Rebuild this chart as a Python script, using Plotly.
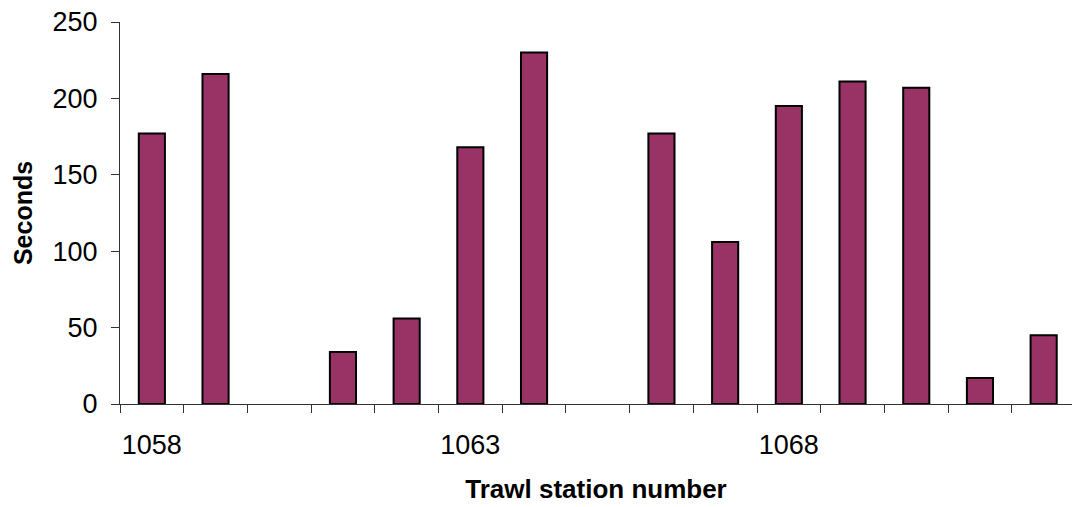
import plotly.graph_objects as go

stations = [1058, 1059, 1060, 1061, 1062, 1063, 1064, 1065, 1066, 1067, 1068, 1069, 1070, 1071, 1072]
seconds = [177, 216, None, 34, 56, 168, 230, None, 177, 106, 195, 211, 207, 17, 45]
label_stations = [1058, 1063, 1068]
y_ticks = [0, 50, 100, 150, 200, 250]

boundaries = [s - 0.5 for s in stations] + [stations[-1] + 0.5]

fig = go.Figure(
    go.Bar(
        x=stations,
        y=seconds,
        width=0.41,
        marker=dict(color="#993366", line=dict(color="#000000", width=2)),
    )
)

fig.update_layout(
    width=1072,
    height=507,
    margin=dict(l=120, r=0, t=22, b=103),
    paper_bgcolor="white",
    plot_bgcolor="white",
    showlegend=False,
    font=dict(family="Liberation Sans, Arial, sans-serif", color="#000000"),
    xaxis=dict(
        range=[stations[0] - 0.5, stations[0] - 0.5 + 952 / 63.7],
        tickvals=label_stations,
        ticktext=[str(s) for s in label_stations],
        ticks="",
        tickfont=dict(size=27),
        ticklabelstandoff=17,
        showline=True,
        linecolor="#333333",
        linewidth=1,
        showgrid=False,
        zeroline=False,
        minor=dict(tickvals=boundaries, ticks="outside", ticklen=8, tickcolor="#333333", tickwidth=1, showgrid=False),
        title=dict(text="<b>Trawl station number</b>", font=dict(size=26), standoff=20),
    ),
    yaxis=dict(
        range=[0, 250],
        tickvals=y_ticks,
        ticks="outside",
        ticklen=8,
        tickcolor="#333333",
        tickfont=dict(size=27),
        ticklabelstandoff=8,
        showline=True,
        linecolor="#333333",
        linewidth=1,
        showgrid=False,
        zeroline=False,
        title=dict(text="<b>Seconds</b>", font=dict(size=25), standoff=12),
    ),
)

fig.write_html("out.html")
